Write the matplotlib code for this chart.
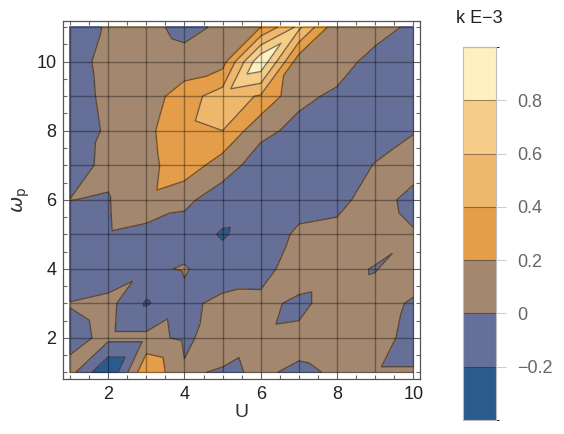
import numpy as np
import matplotlib
matplotlib.use("Agg")
import matplotlib.pyplot as plt
import matplotlib.tri as mtri
from matplotlib.colors import ListedColormap, BoundaryNorm
from matplotlib.cm import ScalarMappable
from matplotlib.ticker import MultipleLocator

plt.rcParams["font.family"] = ["Liberation Sans", "DejaVu Sans"]

# grid coordinates
U = [1, 2, 3, 4, 5, 6, 7, 8, 9, 10]
omega_p = [1, 2, 3, 4, 5, 6, 7, 8, 9, 10, 11]

# k (units of 1E-3), one list per omega_p row, indexed by U
k_w01 = [0.07, -0.40, 0.38, 0.02, -0.015, 0.012, -0.015, 0.01, 0.01, 0.01]
k_w02 = [-0.067, 0.05, 0.05, -0.03, 0.08, 0.02, 0.03, 0.04, 0.06, -0.05]
k_w03 = [0.01, 0.065, -0.22, -0.04, 0.043, 0.04, -0.03, 0.06, 0.10, -0.03]
k_w04 = [-0.16, -0.15, -0.035, 0.015, -0.10, -0.06, 0.09, 0.06, -0.012, 0.14]
k_w05 = [-0.10, -0.017, -0.07, -0.09, -0.22, -0.10, 0.03, 0.05, 0.10, 0.015]
k_w06 = [0.002, -0.01, 0.15, 0.044, -0.10, -0.12, -0.07, -0.05, 0.08, -0.06]
k_w07 = [-0.06, 0.035, 0.13, 0.33, 0.094, -0.094, -0.10, -0.12, 0.01, 0.08]
k_w08 = [-0.12, 0.03, 0.147, 0.36, 0.40, 0.05, -0.05, -0.12, -0.10, -0.01]
k_w09 = [-0.10, 0.05, 0.09, 0.31, 0.50, 0.38, 0.04, -0.03, -0.10, -0.12]
k_w10 = [-0.08, 0.06, 0.10, 0.06, 0.12, 0.97, 0.08, 0.08, -0.065, -0.10]
k_w11 = [-0.10, 0.02, 0.05, -0.05, 0.03, 0.20, 0.65, 0.05, 0.08, -0.04]

contour_levels = [-0.2, 0.0, 0.2, 0.4, 0.6, 0.8]
band_colors = ["#2a5a8e", "#656f98", "#a3886f", "#e49d48",
               "#eeb76c", "#f6cd88", "#fdf1c2"]
legend_bounds = [-0.4, -0.2, 0.0, 0.2, 0.4, 0.6, 0.8, 1.0]
legend_ticks = [-0.2, 0.0, 0.2, 0.4, 0.6, 0.8]
legend_labels = ["\u22120.2", "0", "0.2", "0.4", "0.6", "0.8"]

fig = plt.figure(figsize=(5.64, 4.34), dpi=100)
ax = fig.add_axes([0.1122, 0.1267, 0.6325, 0.826])

Ux, Wy = np.meshgrid(U, omega_p)
K = np.array([k_w01, k_w02, k_w03, k_w04, k_w05, k_w06,
              k_w07, k_w08, k_w09, k_w10, k_w11])
nx, ny = len(U), len(omega_p)

# split each grid cell along its lower-left / upper-right diagonal
triangles = []
for j in range(ny - 1):
    for i in range(nx - 1):
        a = j * nx + i
        b = a + 1
        c = a + nx + 1
        d = a + nx
        triangles.append([a, b, c])
        triangles.append([a, c, d])
tri = mtri.Triangulation(Ux.ravel(), Wy.ravel(), triangles)

fill_levels = [-5.0] + contour_levels + [5.0]
cs = ax.tricontourf(tri, K.ravel(), levels=fill_levels, colors=band_colors)
cs.set_edgecolor("face")
cs.set_linewidth(0.3)
ax.tricontour(tri, K.ravel(), levels=contour_levels,
              colors=[(0.15, 0.12, 0.1, 0.6)], linewidths=1.0,
              linestyles="solid")

# mesh lines at every grid value
ax.vlines(U, omega_p[0], omega_p[-1], colors=[(0, 0, 0, 0.35)], linewidth=1.0)
ax.hlines(omega_p, U[0], U[-1], colors=[(0, 0, 0, 0.35)], linewidth=1.0)

ax.set_xlim(0.824, 10.176)
ax.set_ylim(0.81, 11.19)
ax.xaxis.set_major_locator(MultipleLocator(2))
ax.xaxis.set_minor_locator(MultipleLocator(0.5))
ax.yaxis.set_major_locator(MultipleLocator(2))
ax.yaxis.set_minor_locator(MultipleLocator(0.5))
ax.tick_params(which="both", direction="in", top=True, right=True,
               color="#666666", width=0.8)
ax.tick_params(which="major", length=5, labelsize=13, labelcolor="#222222", pad=5)
ax.tick_params(which="minor", length=3)
for s in ax.spines.values():
    s.set_color("#555555")
    s.set_linewidth(0.9)

ax.set_xlabel("U", fontsize=14, color="#333333", labelpad=1)
ax.set_ylabel(r"$\omega_{\mathrm{p}}$", fontsize=14, color="#333333", labelpad=3)

# legend bar
cax = fig.add_axes([0.8209, 0.0325, 0.0585, 0.859])
cmap = ListedColormap(band_colors)
norm = BoundaryNorm(legend_bounds, cmap.N)
cb = fig.colorbar(ScalarMappable(norm=norm, cmap=cmap), cax=cax,
                  boundaries=legend_bounds, ticks=legend_ticks, drawedges=True)
cb.ax.set_yticklabels(legend_labels)
cb.outline.set_edgecolor("#bbbbbb")
cb.outline.set_linewidth(0.8)
cb.dividers.set_color((0.2, 0.15, 0.1, 0.45))
cb.dividers.set_linewidth(0.8)
cb.ax.tick_params(direction="out", length=7, width=0.8, color="#cccccc",
                  labelsize=13, labelcolor="#666666", pad=8)
fig.text(0.849, 0.958, "k E\u22123", fontsize=13, color="#222222",
         ha="center", va="center")

fig.savefig("out.png", dpi=100)
